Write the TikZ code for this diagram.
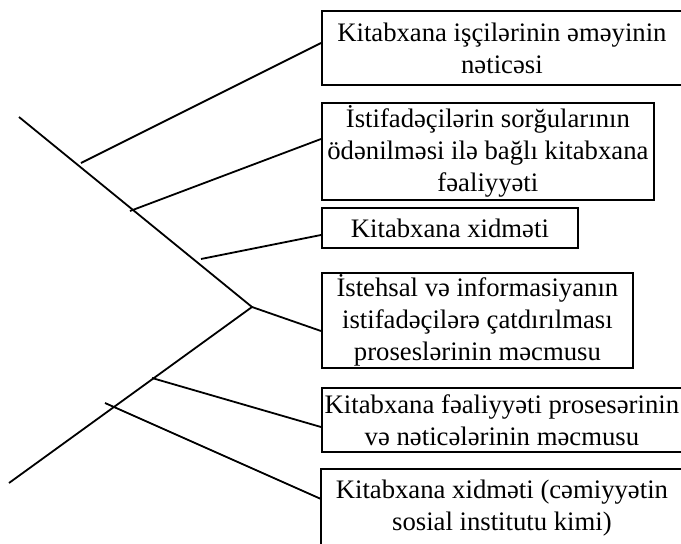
\documentclass[tikz,border=0pt]{standalone}
\usepackage{fontspec}
\setmainfont{Liberation Serif}
\usetikzlibrary{calc}
\begin{document}
\begin{tikzpicture}[x=1pt,y=-1pt,
  every path/.style={line width=1.8pt, black},
  conceptbox/.style={draw, line width=1.8pt, anchor=north west, align=center,
    inner sep=0pt, font=\fontsize{26.7}{32}\selectfont},
  branch/.style={line width=1.8pt}]
  \useasboundingbox (0,0) rectangle (681,544);

  % concept boxes on the right
  \node[conceptbox, minimum width=360, minimum height=74] (b1) at (321,10)
    {Kitabxana işçilərinin əməyinin\\nəticəsi};
  \node[conceptbox, minimum width=332, minimum height=97] (b2) at (321,102)
    {İstifadəçilərin sorğularının\\ödənilməsi ilə bağlı kitabxana\\fəaliyyəti};
  \node[conceptbox, minimum width=256, minimum height=40] (b3) at (321,207)
    {Kitabxana xidməti};
  \node[conceptbox, minimum width=311, minimum height=95] (b4) at (321,272)
    {İstehsal və informasiyanın\\istifadəçilərə çatdırılması\\proseslərinin məcmusu};
  \node[conceptbox, minimum width=360, minimum height=64] (b5) at (321,387)
    {Kitabxana fəaliyyəti prosesərinin\\və nəticələrinin məcmusu};
  % the last box is open at the lower edge of the page
  \node[conceptbox, draw=none, minimum width=360, minimum height=76] (b6) at (321,469)
    {Kitabxana xidməti (cəmiyyətin\\sosial institutu kimi)};
  \draw (b6.south west) -- (b6.north west) -- (b6.north east) -- (b6.south east);

  % the two arms of the bracket
  \coordinate (top) at (19,117);
  \coordinate (apex) at (252,307);
  \coordinate (bottom) at (9,483);
  \draw (top) -- (apex) -- (bottom);

  % starting points of the branches
  \coordinate (s1) at (81,163);
  \coordinate (s2) at (130,211);
  \coordinate (s3) at (201,259);
  \coordinate (s5) at (152,378);
  \coordinate (s6) at (105,403);

  \draw[branch] (s1) -- ($(b1.north west)+(0,33)$);
  \draw[branch] (s2) -- ($(b2.north west)+(0,37)$);
  \draw[branch] (s3) -- ($(b3.north west)+(0,28)$);
  \draw[branch] (apex) -- ($(b4.north west)+(0,59)$);
  \draw[branch] (s5) -- ($(b5.north west)+(0,40)$);
  \draw[branch] (s6) -- ($(b6.north west)+(0,30)$);
\end{tikzpicture}
\end{document}
